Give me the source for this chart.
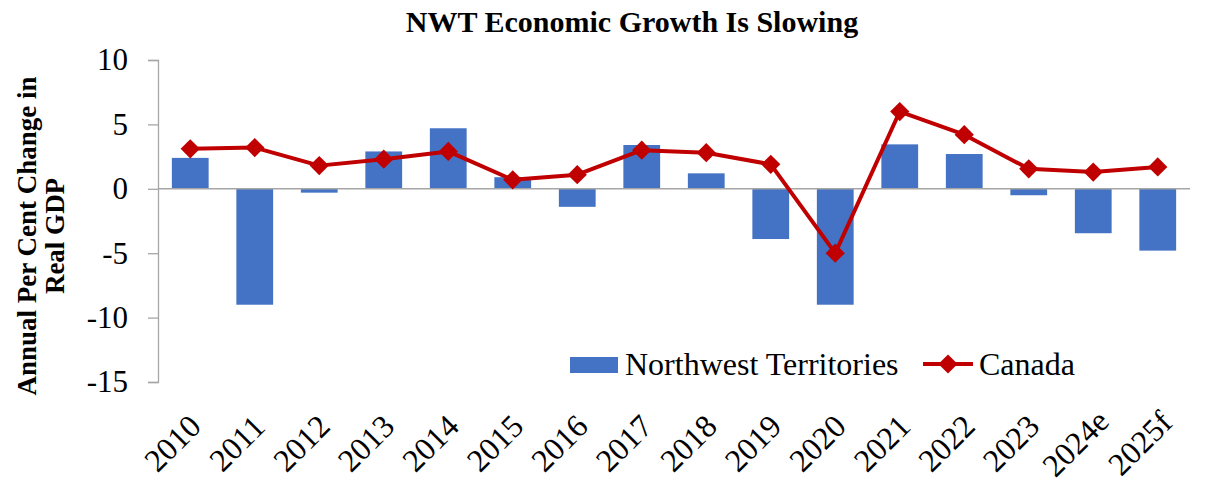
<!DOCTYPE html>
<html>
<head>
<meta charset="utf-8">
<script src="https://cdn.jsdelivr.net/npm/d3@7"></script>
<style>
	body { margin: 0; background: #ffffff; }
	svg { display: block; font-family: "Liberation Serif", "DejaVu Serif", serif; }
</style>
</head>
<body>
<div id="chart"></div>
<script>
const years = ["2010", "2011", "2012", "2013", "2014", "2015", "2016", "2017",
	"2018", "2019", "2020", "2021", "2022", "2023", "2024e", "2025f"];
const nwtGrowth = [2.4, -9.0, -0.3, 2.9, 4.7, 0.9, -1.4, 3.4,
	1.2, -3.9, -9.0, 3.45, 2.7, -0.5, -3.45, -4.8];
const canadaGrowth = [3.1, 3.2, 1.8, 2.3, 2.9, 0.7, 1.1, 3.0,
	2.8, 1.9, -5.0, 6.0, 4.2, 1.55, 1.3, 1.7];
const yTicks = [-15, -10, -5, 0, 5, 10];

const BAR_COLOR = "#4472C4";
const LINE_COLOR = "#C00000";
const AXIS_COLOR = "#A6A6A6";

const width = 1210;
const height = 485;
const plot = { left: 158, right: 1190, top: 60, bottom: 382 };

const svg = d3
	.select("#chart")
	.append("svg")
	.attr("width", width)
	.attr("height", height);

const x = d3
	.scaleBand()
	.domain(years)
	.range([plot.left, plot.right])
	.paddingInner(0.43)
	.paddingOuter(0.215);

const y = d3
	.scaleLinear()
	.domain([-15, 10])
	.range([plot.bottom, plot.top]);

//title
svg
	.append("text")
	.attr("x", 632)
	.attr("y", 32)
	.attr("text-anchor", "middle")
	.attr("font-weight", "bold")
	.attr("font-size", "30px")
	.text("NWT Economic Growth Is Slowing");

//y axis title, two lines
const yTitle = svg
	.append("text")
	.attr("transform", "translate(0, 236) rotate(-90)")
	.attr("text-anchor", "middle")
	.attr("font-weight", "bold")
	.attr("font-size", "27px");

yTitle.append("tspan").attr("x", 0).attr("y", 36).text("Annual Per Cent Change in");
yTitle.append("tspan").attr("x", 0).attr("y", 64).text("Real GDP");

//bars
svg
	.append("g")
	.selectAll("rect")
	.data(nwtGrowth)
	.enter()
	.append("rect")
	.attr("x", (d, i) => x(years[i]))
	.attr("y", d => y(Math.max(0, d)))
	.attr("width", x.bandwidth())
	.attr("height", d => Math.abs(y(d) - y(0)))
	.attr("fill", BAR_COLOR);

//y axis
const yAxis = svg
	.append("g")
	.attr("transform", `translate(${plot.left}, 0)`)
	.call(
		d3
			.axisLeft(y)
			.tickValues(yTicks)
			.tickSize(10)
			.tickPadding(20)
			.tickFormat(d => String(d))
	);

yAxis.select(".domain").attr("stroke", AXIS_COLOR).attr("stroke-width", 1.3);
yAxis.selectAll(".tick line").attr("stroke", AXIS_COLOR).attr("stroke-width", 1.3);
yAxis
	.selectAll(".tick text")
	.attr("font-family", "Liberation Serif")
	.attr("font-size", "31px")
	.attr("fill", "#000");

//zero line
svg
	.append("line")
	.attr("x1", plot.left)
	.attr("x2", plot.right)
	.attr("y1", y(0))
	.attr("y2", y(0))
	.attr("stroke", AXIS_COLOR)
	.attr("stroke-width", 1.5);

//x labels, rotated
svg
	.append("g")
	.selectAll("text")
	.data(years)
	.enter()
	.append("text")
	.attr("transform", d => `translate(${x(d) + x.bandwidth() / 2 - 18}, 443) rotate(-45)`)
	.attr("text-anchor", "middle")
	.attr("dy", "0.35em")
	.attr("font-size", "32px")
	.text(d => d);

//canada line
const line = d3
	.line()
	.x((d, i) => x(years[i]) + x.bandwidth() / 2)
	.y(d => y(d));

svg
	.append("path")
	.datum(canadaGrowth)
	.attr("d", line)
	.attr("fill", "none")
	.attr("stroke", LINE_COLOR)
	.attr("stroke-width", 4)
	.attr("stroke-linejoin", "round");

const diamond = d3.symbol().type(d3.symbolSquare).size(185);

svg
	.append("g")
	.selectAll("path")
	.data(canadaGrowth)
	.enter()
	.append("path")
	.attr("d", diamond)
	.attr(
		"transform",
		(d, i) => `translate(${x(years[i]) + x.bandwidth() / 2}, ${y(d)}) rotate(45)`
	)
	.attr("fill", LINE_COLOR);

//legend
const legend = svg.append("g").attr("font-size", "32px");

legend
	.append("rect")
	.attr("x", 570)
	.attr("y", 357)
	.attr("width", 48)
	.attr("height", 16)
	.attr("fill", BAR_COLOR);

legend.append("text").attr("x", 625).attr("y", 375).text("Northwest Territories");

legend
	.append("line")
	.attr("x1", 923)
	.attr("x2", 973)
	.attr("y1", 364)
	.attr("y2", 364)
	.attr("stroke", LINE_COLOR)
	.attr("stroke-width", 4);

legend
	.append("path")
	.attr("d", diamond)
	.attr("transform", "translate(948, 364) rotate(45)")
	.attr("fill", LINE_COLOR);

legend.append("text").attr("x", 979).attr("y", 375).text("Canada");
</script>
</body>
</html>
